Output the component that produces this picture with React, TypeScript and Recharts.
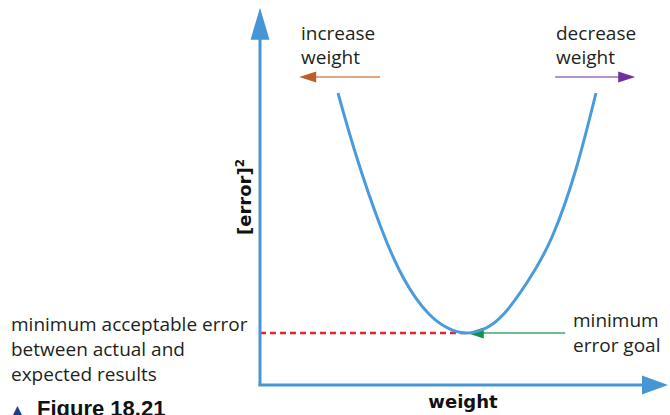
import React from "react";
import { ComposedChart, Line, ReferenceLine, XAxis, YAxis } from "recharts";

// curve (weight vs squared error)
const weightVals = [19.5, 24, 30, 36, 42, 47, 51.3, 56, 61, 67, 73, 79, 84];
const errorVals = [73, 57.5, 40, 26.5, 18, 14.2, 13, 14, 17.8, 26, 37, 54, 73];

const minErrorLevel = 13;
const minErrorX = 51.3;
const goalArrowStart = 76.3;
const dirArrowY = 77;
const increaseArrow = [30, 9.8];
const decreaseArrow = [73.8, 93.8];
const xAxisEnd = 102;
const yAxisEnd = 94.3;

const curve = weightVals.map((w, i) => ({ w, err: errorVals[i] }));

const AXIS_BLUE = "#4696d6";
const TEXT = "#231f20";

type ArrowOpts = { line: string; head: string; width: number; len: number; half: number };

const arrowShape = (o: ArrowOpts) => (p: any) => {
  const { x1, y1, x2, y2 } = p;
  const dx = x2 - x1;
  const dy = y2 - y1;
  const d = Math.hypot(dx, dy) || 1;
  const ux = dx / d;
  const uy = dy / d;
  const bx = x2 - ux * o.len;
  const by = y2 - uy * o.len;
  const pts = [
    `${x2},${y2}`,
    `${bx - uy * o.half},${by + ux * o.half}`,
    `${bx + uy * o.half},${by - ux * o.half}`,
  ].join(" ");
  return (
    <g>
      <line x1={x1} y1={y1} x2={bx + ux} y2={by + uy} stroke={o.line} strokeWidth={o.width} />
      <polygon points={pts} fill={o.head} />
    </g>
  );
};

export default function App() {
  const body = { fontFamily: "'Open Sans', sans-serif", fontSize: 19, fill: TEXT };
  const bold = { fontFamily: "'DejaVu Sans', sans-serif", fontWeight: 700, fontSize: 18 };
  return (
    <div style={{ position: "absolute", left: 0, top: 0, width: 670, height: 415, background: "#fff" }}>
      <ComposedChart
        width={670}
        height={415}
        data={curve}
        margin={{ top: 5, right: 2, left: 260, bottom: 30 }}
      >
        <XAxis type="number" dataKey="w" domain={[0, xAxisEnd]} hide />
        <YAxis type="number" domain={[0, 95]} hide />
        <ReferenceLine
          ifOverflow="visible"
          segment={[{ x: 0, y: minErrorLevel }, { x: minErrorX, y: minErrorLevel }]}
          stroke="#e3262b"
          strokeWidth={2.5}
          strokeDasharray="6 4"
        />
        <ReferenceLine
          ifOverflow="visible"
          segment={[{ x: 0, y: 0 }, { x: 0, y: yAxisEnd }]}
          shape={arrowShape({ line: AXIS_BLUE, head: AXIS_BLUE, width: 3, len: 32, half: 9.5 })}
        />
        <ReferenceLine
          ifOverflow="visible"
          segment={[{ x: -0.4, y: 0 }, { x: xAxisEnd, y: 0 }]}
          shape={arrowShape({ line: AXIS_BLUE, head: AXIS_BLUE, width: 3, len: 26, half: 9.5 })}
        />
        <ReferenceLine
          ifOverflow="visible"
          segment={[{ x: goalArrowStart, y: minErrorLevel }, { x: minErrorX + 0.4, y: minErrorLevel }]}
          shape={arrowShape({ line: "#3fa66a", head: "#129447", width: 1.6, len: 17, half: 5.5 })}
        />
        <ReferenceLine
          ifOverflow="visible"
          segment={[{ x: increaseArrow[0], y: dirArrowY }, { x: increaseArrow[1], y: dirArrowY }]}
          shape={arrowShape({ line: "#d38b5f", head: "#bd5e28", width: 1.6, len: 17, half: 5.5 })}
        />
        <ReferenceLine
          ifOverflow="visible"
          segment={[{ x: decreaseArrow[0], y: dirArrowY }, { x: decreaseArrow[1], y: dirArrowY }]}
          shape={arrowShape({ line: "#9b6cc0", head: "#7030a0", width: 1.6, len: 17, half: 5.5 })}
        />
        <Line
          type="natural"
          dataKey="err"
          stroke="#4a9bdb"
          strokeWidth={3}
          dot={false}
          activeDot={false}
          isAnimationActive={false}
        />
      </ComposedChart>
      <svg
        width={670}
        height={415}
        style={{ position: "absolute", left: 0, top: 0, pointerEvents: "none" }}
      >
        <text x={301} y={40} {...body}>increase</text>
        <text x={301} y={64} {...body}>weight</text>
        <text x={556} y={40} {...body}>decrease</text>
        <text x={556} y={64} {...body}>weight</text>
        <text x={11} y={331} {...body}>minimum acceptable error</text>
        <text x={11} y={356} {...body}>between actual and</text>
        <text x={11} y={381} {...body}>expected results</text>
        <text x={573} y={327} {...body}>minimum</text>
        <text x={573} y={352} {...body}>error goal</text>
        <text x={463} y={408} textAnchor="middle" style={bold} fill="#111">
          weight
        </text>
        <text x={0} y={0} textAnchor="middle" transform="translate(251 197) rotate(-90)" style={bold} fill="#111">
          [error]<tspan fontSize={12} dy={-7}>2</tspan>
        </text>
        <text x={12} y={415} style={{ fontFamily: "'DejaVu Sans', sans-serif", fontSize: 14 }} fill="#1f3c88">
          ▲
        </text>
        <text
          x={37}
          y={416}
          style={{ fontFamily: "'Liberation Sans', Arial, sans-serif", fontWeight: 700, fontSize: 22 }}
          fill="#111"
        >
          Figure 18.21
        </text>
      </svg>
    </div>
  );
}
